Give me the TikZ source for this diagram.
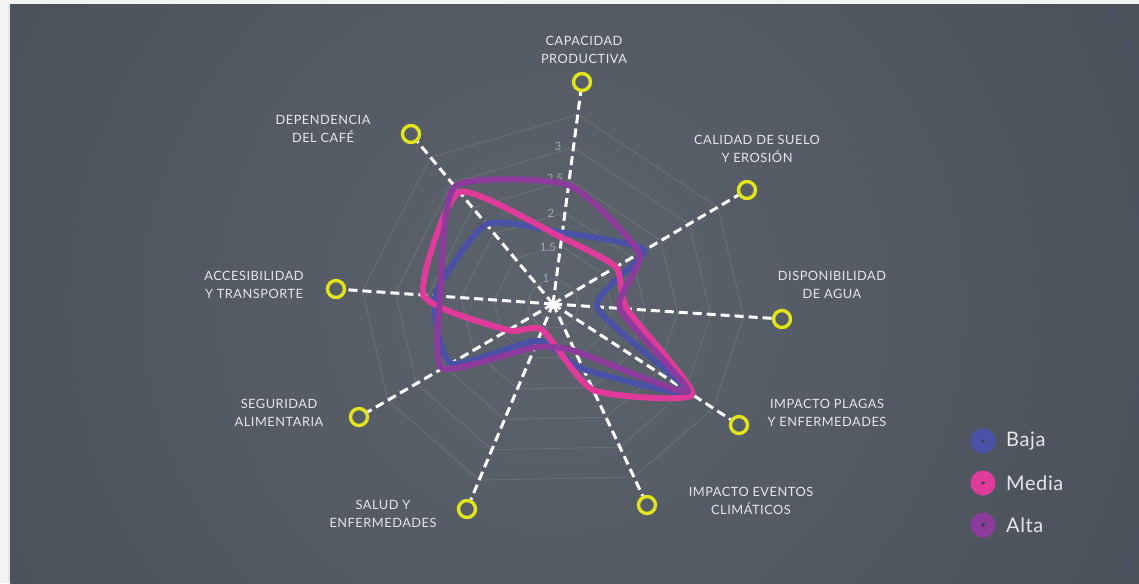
\documentclass[tikz,border=0pt]{standalone}
\usepackage{fontspec}
\setmainfont{Lato}
\usetikzlibrary{calc}
\definecolor{bgout}{HTML}{F2F3F3}
\definecolor{panel}{HTML}{414752}
\definecolor{panelc}{HTML}{5D636C}
\definecolor{bajac}{HTML}{4A52A8}
\definecolor{mediac}{HTML}{E03A9A}
\definecolor{altac}{HTML}{8C3A9C}
\definecolor{ringc}{HTML}{E2E41C}
\definecolor{labc}{HTML}{E4E6E8}
\definecolor{scalec}{HTML}{A3A8AF}
\definecolor{markc}{HTML}{3A3F4A}
\begin{document}
\begin{tikzpicture}[x=1pt,y=-1pt,
  axisline/.style={white, line width=3pt, dash pattern=on 9pt off 5pt},
  endring/.style={circle, draw=ringc, line width=3.4pt, minimum size=17pt, inner sep=0pt},
  lab/.style={text=labc, font=\fontsize{12.8}{18}\selectfont\addfontfeatures{LetterSpace=4}, align=center},
  scalelab/.style={text=scalec, font=\fontsize{11.5}{12}\selectfont, inner sep=0pt},
  gridline/.style={white, opacity=0.09, line width=1pt},
  serieswidth/.style={line width=6pt, line join=round},
  legdot/.style={circle, minimum size=25pt, inner sep=0pt},
  legtext/.style={text=labc, font=\fontsize{20}{20}\selectfont\addfontfeatures{LetterSpace=3}, anchor=west, inner sep=0pt}
]
\useasboundingbox (0,0) rectangle (1139,583);
\fill[bgout] (0,0) rectangle (1139,583);
\fill[black!10] (8,4) rectangle (1139,583);
\begin{scope}
  \clip (10,5) rectangle (1139,583);
  \fill[panel] (10,5) rectangle (1139,583);
  \shade[inner color=panelc, outer color=panel] (553,304) circle (1000pt);
\end{scope}

% centre and axis ends
\coordinate (C) at (553,304);
\node[endring] (e1) at (582,82) {};
\node[endring] (e2) at (747,190) {};
\node[endring] (e3) at (782,319) {};
\node[endring] (e4) at (739,425) {};
\node[endring] (e5) at (647,505) {};
\node[endring] (e6) at (467,509) {};
\node[endring] (e7) at (359,417) {};
\node[endring] (e8) at (336,289) {};
\node[endring] (e9) at (411,134) {};

% grid rings
\foreach \r in {26,59,92,125,158,191}
  \draw[gridline] ($(C)!\r pt!(e1)$) \foreach \i in {2,...,9} { -- ($(C)!\r pt!(e\i)$) } -- cycle;

% axes
\foreach \i in {1,...,9}
  \draw[axisline] (C) -- (e\i);

% scale labels
\node[scalelab] (s1) at (546,278) {1};
\node[scalelab] (s15) at (548,247) {1.5};
\node[scalelab] (s2) at (551,213) {2};
\node[scalelab] (s25) at (555,178) {2.5};
\node[scalelab] (s3) at (558,146) {3};

% series points
\foreach \v [count=\i] in {72,106,44,161,72,40,118,118,104}
  \coordinate (b\i) at ($(C)!\v pt!(e\i)$);
\foreach \v [count=\i] in {67,73,74,166,95,28,52,130,146}
  \coordinate (m\i) at ($(C)!\v pt!(e\i)$);
\foreach \v [count=\i] in {120,100,67,161,52,47,128,113,153}
  \coordinate (a\i) at ($(C)!\v pt!(e\i)$);

\draw[bajac, serieswidth] plot[smooth cycle, tension=0.35] coordinates {(b1) (b2) (b3) (b4) (b5) (b6) (b7) (b8) (b9)};
\draw[mediac, serieswidth] plot[smooth cycle, tension=0.35] coordinates {(m1) (m2) (m3) (m4) (m5) (m6) (m7) (m8) (m9)};
\draw[altac, serieswidth] plot[smooth cycle, tension=0.35] coordinates {(a1) (a2) (a3) (a4) (a5) (a6) (a7) (a8) (a9)};

% axis labels
\node[lab] (L1) at (584,50) {CAPACIDAD\\PRODUCTIVA};
\node[lab] (L2) at (757,149) {CALIDAD DE SUELO\\Y EROSIÓN};
\node[lab] (L3) at (832,285) {DISPONIBILIDAD\\DE AGUA};
\node[lab] (L4) at (827,413) {IMPACTO PLAGAS\\Y ENFERMEDADES};
\node[lab] (L5) at (751,501) {IMPACTO EVENTOS\\CLIMÁTICOS};
\node[lab] (L6) at (383,514) {SALUD Y\\ENFERMEDADES};
\node[lab] (L7) at (279,413) {SEGURIDAD\\ALIMENTARIA};
\node[lab] (L8) at (254,285) {ACCESIBILIDAD\\Y TRANSPORTE};
\node[lab] (L9) at (323,129) {DEPENDENCIA\\DEL CAFÉ};

% legend
\node[legdot, fill=bajac] (d1) at (983,441) {};
\node[legdot, fill=mediac] (d2) at (983,483) {};
\node[legdot, fill=altac] (d3) at (983,525) {};
\fill[markc] (d1.center) circle (1.6pt);
\fill[markc] ($(d2.center)+(-2.5,-1.2)$) -- ($(d2.center)+(2.5,-1.2)$) -- ($(d2.center)+(0,2)$) -- cycle;
\fill[markc] ($(d3.center)+(0,-2.2)$) -- ($(d3.center)+(2.2,0)$) -- ($(d3.center)+(0,2.2)$) -- ($(d3.center)+(-2.2,0)$) -- cycle;
\node[legtext] (t1) at (1006,441) {Baja};
\node[legtext] (t2) at (1006,483) {Media};
\node[legtext] (t3) at (1006,525) {Alta};
\end{tikzpicture}
\end{document}
